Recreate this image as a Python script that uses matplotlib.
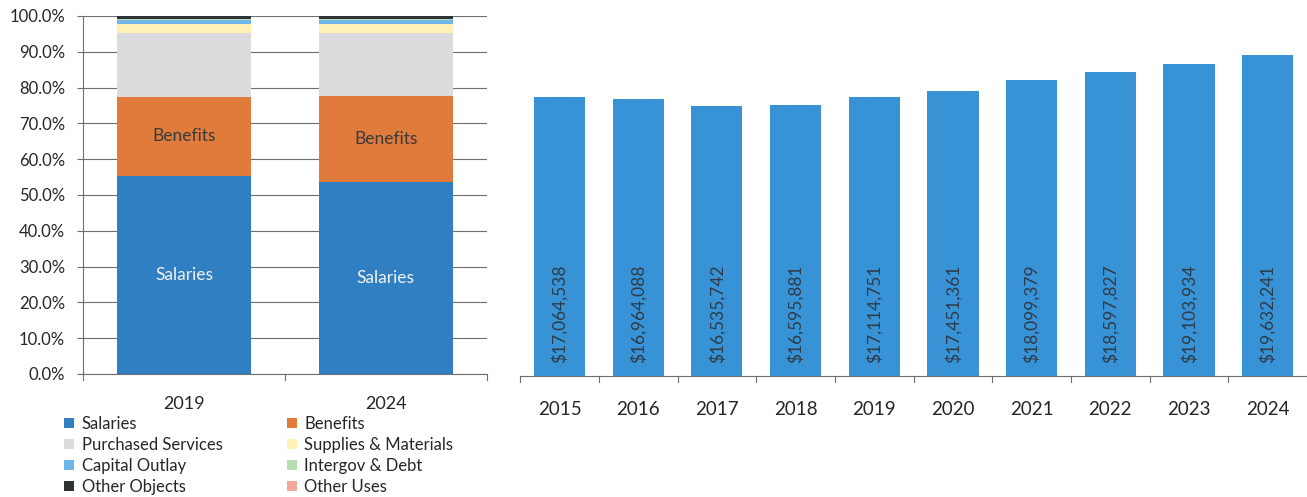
import matplotlib
matplotlib.use("Agg")
import matplotlib.pyplot as plt
from matplotlib.patches import Patch
from matplotlib.ticker import PercentFormatter

plt.rcParams['font.family'] = ['Lato', 'DejaVu Sans']

# Composition of spending by object (percent of total)
share_years = ["2019", "2024"]
categories = ["Salaries", "Benefits", "Purchased Services", "Supplies & Materials",
              "Capital Outlay", "Intergov & Debt", "Other Objects", "Other Uses"]
salaries = [55.3, 53.6]
benefits = [22.1, 24.1]
purchased = [17.9, 17.5]
supplies = [2.5, 2.6]
capital = [1.1, 1.1]
intergov = [0.1, 0.1]
other_objects = [1.0, 1.0]
other_uses = [0.0, 0.0]

# Total expenditures by year
years = ["2015", "2016", "2017", "2018", "2019", "2020", "2021", "2022", "2023", "2024"]
totals = [17064538, 16964088, 16535742, 16595881, 17114751,
          17451361, 18099379, 18597827, 19103934, 19632241]

colors = ["#2F7FC2", "#E07B3B", "#DCDCDE", "#FFF1B5",
          "#6DB5EA", "#B7DDB2", "#2E3436", "#F4A79C"]
bar_blue = "#3793D5"
axis_gray = "#6E6E6E"
text_dark = "#262626"

fig = plt.figure(figsize=(13.07, 4.97), dpi=100)

# ---- Stacked percentage chart ----
ax1 = fig.add_axes([0.0635, 0.2475, 0.309, 0.7205])
series = [salaries, benefits, purchased, supplies, capital, intergov, other_objects, other_uses]
x1 = [0, 1]
bottoms = [0.0, 0.0]
for vals, col in zip(series, colors):
    ax1.bar(x1, vals, width=0.66, bottom=bottoms, color=col, zorder=3, linewidth=0)
    bottoms = [b + v for b, v in zip(bottoms, vals)]

for i in x1:
    ax1.text(i, salaries[i] / 2, "Salaries", ha="center", va="center",
             color="#F2F2F2", fontsize=12.5, zorder=4)
    ax1.text(i, salaries[i] + benefits[i] / 2, "Benefits", ha="center", va="center",
             color="#3A3A3A", fontsize=12.5, zorder=4)

ax1.set_xlim(-0.5, 1.5)
ax1.set_ylim(0, 100)
ax1.set_yticks(range(0, 101, 10))
ax1.yaxis.set_major_formatter(PercentFormatter(decimals=1))
ax1.grid(axis="y", color=axis_gray, linewidth=0.8, zorder=0)
for s in ["top", "right"]:
    ax1.spines[s].set_visible(False)
ax1.spines["bottom"].set_color(axis_gray)
ax1.spines["left"].set_color(axis_gray)
ax1.tick_params(axis="y", length=4.5, width=0.8, color=axis_gray,
                labelsize=12, labelcolor=text_dark, pad=8.5)
ax1.set_xticks(x1)
ax1.set_xticklabels(share_years, fontsize=13, color=text_dark)
ax1.tick_params(axis="x", length=0, pad=16)
# category separator ticks
for xb in [-0.5, 0.5, 1.5]:
    ax1.plot([xb, xb], [0, -1.6], color=axis_gray, linewidth=0.8, clip_on=False)

handles = [Patch(facecolor=c, edgecolor="none") for c in colors]
order = [0, 2, 4, 6, 1, 3, 5, 7]
fig.legend([handles[i] for i in order], [categories[i] for i in order],
           ncol=2, loc="upper left", bbox_to_anchor=(0.049, 0.163),
           frameon=False, fontsize=12, handlelength=0.6, handleheight=0.6,
           handletextpad=0.45, columnspacing=3.85, labelspacing=0.3,
           borderaxespad=0, borderpad=0, labelcolor=text_dark)

# ---- Total expenditures chart ----
ax2 = fig.add_axes([0.398, 0.2435, 0.602, 0.68])
x2 = list(range(len(years)))
ax2.bar(x2, totals, width=0.65, color=bar_blue, zorder=3, linewidth=0)
for xi, v in zip(x2, totals):
    ax2.text(xi, 0.8e6, f"${v:,}", rotation=90, ha="center", va="bottom",
             fontsize=12.5, color="#2E3A48", zorder=4)
ax2.set_xlim(-0.5, len(years) - 0.5)
ax2.set_ylim(0, 20.7e6)
ax2.set_yticks([])
for s in ["top", "right", "left"]:
    ax2.spines[s].set_visible(False)
ax2.spines["bottom"].set_color(axis_gray)
ax2.set_xticks(x2)
ax2.set_xticklabels(years, fontsize=13.5, color=text_dark)
ax2.tick_params(axis="x", length=0, pad=18)
for xb in [i - 0.5 for i in range(len(years) + 1)]:
    ax2.plot([xb, xb], [0, -0.35e6], color=axis_gray, linewidth=0.8, clip_on=False)

fig.savefig("out.png", dpi=100)
